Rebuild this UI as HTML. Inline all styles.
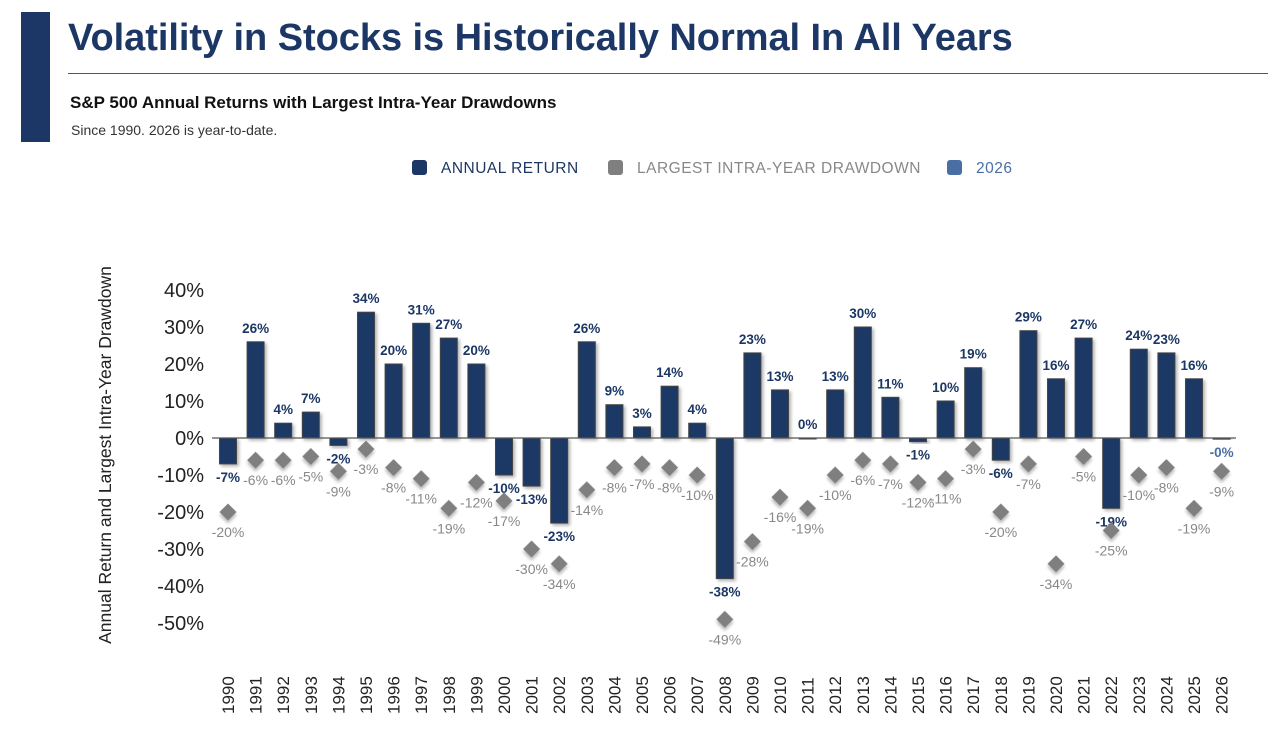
<!DOCTYPE html>
<html><head><meta charset="utf-8"><style>
body{margin:0;background:#fff;width:1270px;height:744px;overflow:hidden;font-family:"Liberation Sans",sans-serif}
</style></head><body>
<div style="position:absolute;left:21px;top:12px;width:29px;height:130px;background:#1c3765"></div>
<div style="position:absolute;left:68px;top:17px;font-size:38px;font-weight:bold;color:#1c3765;letter-spacing:-0.05px">Volatility in Stocks is Historically Normal In All Years</div>
<div style="position:absolute;left:68px;top:73px;width:1200px;height:1px;background:#555"></div>
<div style="position:absolute;left:70px;top:93px;font-size:17px;font-weight:bold;color:#111">S&amp;P 500 Annual Returns with Largest Intra-Year Drawdowns</div>
<div style="position:absolute;left:71px;top:122px;font-size:14px;color:#333">Since 1990. 2026 is year-to-date.</div>
<svg id="chart" width="1270" height="744" style="position:absolute;left:0;top:0"></svg>
<script>
const years=[1990,1991,1992,1993,1994,1995,1996,1997,1998,1999,2000,2001,2002,2003,2004,2005,2006,2007,2008,2009,2010,2011,2012,2013,2014,2015,2016,2017,2018,2019,2020,2021,2022,2023,2024,2025,2026];
const annualReturn=[-7,26,4,7,-2,34,20,31,27,20,-10,-13,-23,26,9,3,14,4,-38,23,13,0,13,30,11,-1,10,19,-6,29,16,27,-19,24,23,16,-0.3];
const drawdown=[-20,-6,-6,-5,-9,-3,-8,-11,-19,-12,-17,-30,-34,-14,-8,-7,-8,-10,-49,-28,-16,-19,-10,-6,-7,-12,-11,-3,-20,-7,-34,-5,-25,-10,-8,-19,-9];
const yTicks=[40,30,20,10,0,-10,-20,-30,-40,-50];
const svg=document.getElementById('chart');const NS='http://www.w3.org/2000/svg';
const y=v=>438-v*3.7;const x=i=>228+i*27.6;
function mk(t,a,p){const e=document.createElementNS(NS,t);for(const k in a)e.setAttribute(k,a[k]);(p||svg).appendChild(e);return e;}
const defs=mk('defs',{});const f=mk('filter',{id:'sh',x:'-50%',y:'-50%',width:'200%',height:'200%'},defs);
mk('feDropShadow',{dx:2,dy:2,stdDeviation:1.5,'flood-color':'#000','flood-opacity':0.3},f);
const leg=[['ANNUAL RETURN','#1c3765','#1c3765',412],['LARGEST INTRA-YEAR DRAWDOWN','#7f7f7f','#888',608],['2026','#4a6fa5','#4a6fa5',947]];
leg.forEach(l=>{const g=mk('g',{});
mk('rect',{x:l[3],y:160,width:15,height:15,rx:3,fill:l[1]},g);
const t=mk('text',{x:l[3]+29,y:173,'font-size':15.5,fill:l[2],'letter-spacing':0.5},g);t.textContent=l[0];});
yTicks.forEach(v=>{const t=mk('text',{x:204,y:y(v)+7,'text-anchor':'end','font-size':20,fill:'#222'});t.textContent=v+'%';});
const yt=mk('text',{transform:'translate(111,455) rotate(-90)','text-anchor':'middle','font-size':17.5,fill:'#222'});yt.textContent='Annual Return and Largest Intra-Year Drawdown';
years.forEach((yr,i)=>{const cx=x(i);const v=annualReturn[i];const is26=yr===2026;
const r=mk('rect',{x:cx-8.5,y:Math.min(y(v),y(0)),width:17,height:Math.max(Math.abs(y(v)-y(0)),1),fill:is26?'#4a6fa5':'#1c3765',stroke:'#444','stroke-width':1,filter:'url(#sh)'});

const lt=mk('text',{x:cx,y:v>=0?y(v)-9:y(v)+18,'text-anchor':'middle','font-size':13.5,'font-weight':'bold',fill:is26?'#4a6fa5':'#1c3765'});
lt.textContent=Math.round(v)===0&&v<0?'-0%':Math.round(v)+'%';
const d=drawdown[i];const dy=y(d);
const dm=mk('rect',{x:cx-6,y:dy-6,width:12,height:12,fill:'#7f7f7f',transform:`rotate(45 ${cx} ${dy})`,filter:'url(#sh)'});

const dt=mk('text',{x:cx,y:dy+25,'text-anchor':'middle','font-size':14,fill:'#888'});
dt.textContent=d+'%';
const xl=mk('text',{transform:`translate(${cx+6},714) rotate(-90)`,'font-size':17,fill:'#222'});
xl.textContent=yr;});
const ax=mk('line',{x1:212,x2:1236,y1:y(0),y2:y(0),stroke:'#555','stroke-width':1.2});
</script>
</body></html>
